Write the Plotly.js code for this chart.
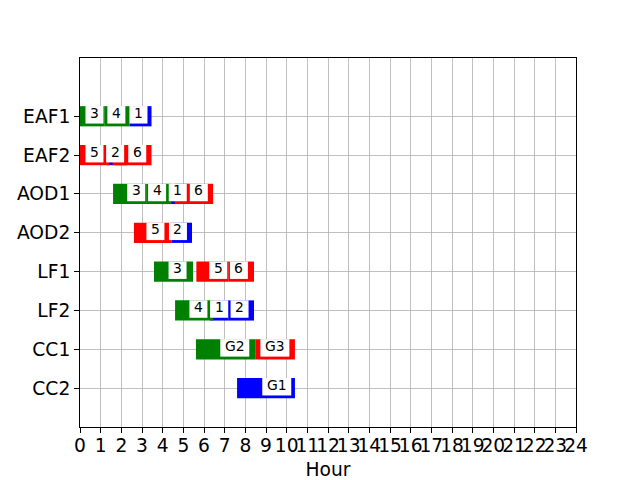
<!DOCTYPE html>
<html>
<head>
<meta charset="utf-8">
<script src="https://cdn.plot.ly/plotly-3.0.1.min.js"></script>
<style>html,body{margin:0;padding:0;background:#fff;}#chart{width:640px;height:480px;}</style>
</head>
<body>
<div id="chart"></div>
<script>
// Machines, top to bottom
const machines = ['EAF1', 'EAF2', 'AOD1', 'AOD2', 'LF1', 'LF2', 'CC1', 'CC2'];
const xTicks = [0,1,2,3,4,5,6,7,8,9,10,11,12,13,14,15,16,17,18,19,20,21,22,23,24];

// Tasks (in drawing order; later bars cover earlier ones)
const taskMachine = ['EAF1','EAF1','EAF1', 'EAF2','EAF2','EAF2', 'AOD1','AOD1','AOD1','AOD1', 'AOD2','AOD2', 'LF1','LF1','LF1', 'LF2','LF2','LF2', 'CC1','CC1', 'CC2'];
const taskLabel   = ['1','3','4', '2','5','6', '1','3','4','6', '2','5', '3','5','6', '1','2','4', 'G2','G3', 'G1'];
const taskGroup   = ['G1','G2','G2', 'G1','G3','G3', 'G1','G2','G2','G3', 'G1','G3', 'G2','G3','G3', 'G1','G1','G2', 'G2','G3', 'G1'];
const taskStart   = [2.39, 0.00, 1.20, 1.30, 0.00, 1.58, 3.90, 1.60, 3.20, 4.58, 4.42, 2.61, 3.58, 5.63, 7.20, 6.30, 7.20, 4.60, 5.61, 8.48, 7.60];
const taskEnd     = [3.46, 1.20, 2.39, 2.30, 1.42, 3.46, 5.30, 3.20, 4.42, 6.44, 5.42, 4.42, 5.47, 7.20, 8.42, 7.20, 8.42, 6.45, 8.48, 10.40, 10.40];
const labelAt     = [2.83, 0.70, 1.76, 1.70, 0.70, 2.77, 4.73, 2.72, 3.73, 5.75, 4.74, 3.65, 4.72, 6.69, 7.69, 6.73, 7.72, 5.73, 7.49, 9.43, 9.52];

const groupColor = {G1: 'blue', G2: 'green', G3: 'red'};

const yOf = m => machines.length - machines.indexOf(m);

const trace = {
  type: 'bar',
  orientation: 'h',
  y: taskMachine.map(yOf),
  base: taskStart,
  x: taskEnd.map((e, i) => e - taskStart[i]),
  width: 0.52,
  marker: {color: taskGroup.map(g => groupColor[g]), line: {width: 0}},
  hoverinfo: 'skip',
  showlegend: false
};

// white label boxes (pixel-sized, anchored at data positions)
const shapes = taskLabel.map((t, i) => {
  const w = t.length === 1 ? 18 : 29;
  return {
    type: 'rect', layer: 'above',
    xref: 'x', yref: 'y',
    xsizemode: 'pixel', ysizemode: 'pixel',
    xanchor: labelAt[i], yanchor: yOf(taskMachine[i]),
    x0: -w / 2, x1: w / 2,
    y0: -7.3, y1: 10.2,
    fillcolor: 'white', line: {width: 0}
  };
});

const annotations = taskLabel.map((t, i) => ({
  x: labelAt[i],
  y: yOf(taskMachine[i]),
  xref: 'x', yref: 'y',
  text: t,
  showarrow: false,
  xanchor: 'center', yanchor: 'middle',
  yshift: 3.6,
  font: {family: 'DejaVu Sans', size: 13.9, color: 'black'}
}));

const axisCommon = {
  showgrid: true, gridcolor: '#b0b0b0', gridwidth: 0.8,
  showline: true, mirror: true, linecolor: 'black', linewidth: 1,
  ticks: 'outside', ticklen: 5, tickwidth: 1, tickcolor: 'black',
  zeroline: false, automargin: false,
  tickfont: {family: 'DejaVu Sans', size: 18.67, color: 'black'}
};

const layout = {
  width: 640, height: 480,
  margin: {l: 80, r: 64, t: 58, b: 53, pad: 0},
  paper_bgcolor: 'white', plot_bgcolor: 'white',
  font: {family: 'DejaVu Sans', color: 'black'},
  barmode: 'overlay',
  xaxis: Object.assign({}, axisCommon, {
    range: [0, 24], tickmode: 'array', tickvals: xTicks, ticktext: xTicks.map(String),
    tickangle: 0, ticklabelstandoff: -3,
    title: {text: 'Hour', font: {family: 'DejaVu Sans', size: 18.67, color: 'black'}, standoff: 8}
  }),
  yaxis: Object.assign({}, axisCommon, {
    range: [0, 9.5], tickmode: 'array',
    tickvals: machines.map(yOf), ticktext: machines
  }),
  shapes: shapes,
  annotations: annotations
};

Plotly.newPlot('chart', [trace], layout, {staticPlot: true, displayModeBar: false});
</script>
</body>
</html>
